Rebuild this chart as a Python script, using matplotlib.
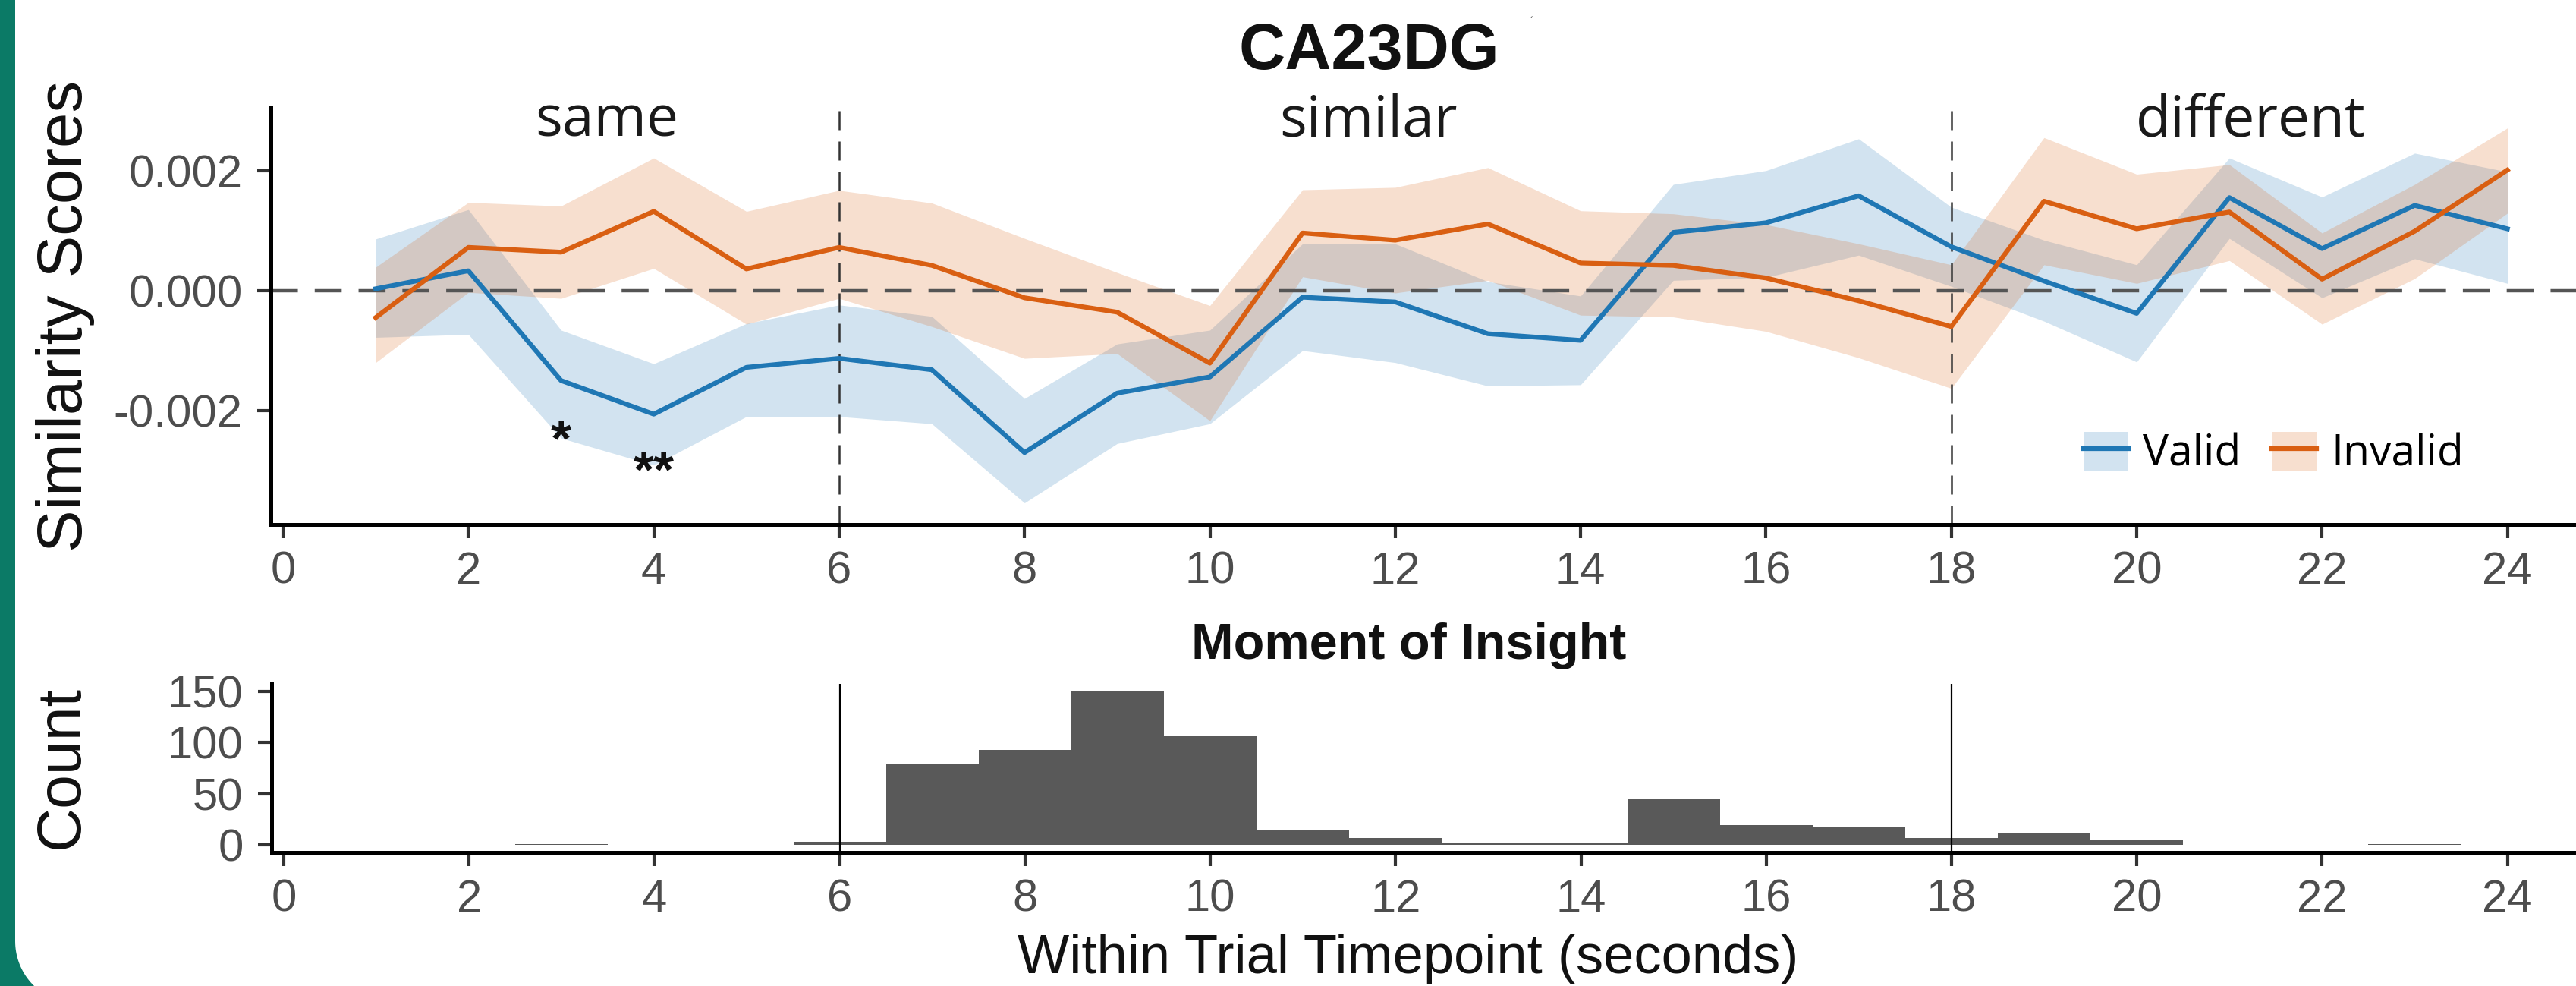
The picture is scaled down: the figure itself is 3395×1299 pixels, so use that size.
import numpy as np
import matplotlib
matplotlib.use('Agg')
import matplotlib.pyplot as plt
from matplotlib.patches import Patch, Polygon
from matplotlib.lines import Line2D
from matplotlib.transforms import blended_transform_factory

# timepoints (seconds)
timepoints = list(range(1, 25))

# similarity scores (x 1e-3), mean and ribbon bounds
valid_mean = [0.03, 0.33, -1.50, -2.06, -1.28, -1.13, -1.32, -2.70, -1.71, -1.44, -0.11, -0.19,
              -0.72, -0.83, 0.97, 1.13, 1.58, 0.73, 0.16, -0.38, 1.55, 0.70, 1.42, 1.03]
valid_upper = [0.86, 1.35, -0.66, -1.22, -0.55, -0.24, -0.43, -1.80, -0.89, -0.66, 0.78, 0.78,
               0.15, -0.09, 1.77, 2.00, 2.53, 1.39, 0.84, 0.43, 2.21, 1.56, 2.29, 1.98]
valid_lower = [-0.78, -0.73, -2.46, -2.91, -2.10, -2.10, -2.22, -3.54, -2.55, -2.22, -1.00, -1.20,
               -1.59, -1.57, 0.17, 0.22, 0.59, 0.07, -0.51, -1.19, 0.87, -0.12, 0.53, 0.12]
invalid_mean = [-0.45, 0.72, 0.64, 1.32, 0.36, 0.72, 0.42, -0.12, -0.36, -1.21, 0.96, 0.84,
                1.11, 0.46, 0.42, 0.21, -0.17, -0.60, 1.49, 1.03, 1.31, 0.19, 0.99, 2.01]
invalid_upper = [0.39, 1.47, 1.41, 2.21, 1.32, 1.67, 1.46, 0.87, 0.30, -0.25, 1.68, 1.72,
                 2.05, 1.33, 1.28, 1.10, 0.78, 0.43, 2.55, 1.94, 2.10, 0.96, 1.77, 2.71]
invalid_lower = [-1.20, -0.03, -0.13, 0.37, -0.56, -0.13, -0.60, -1.13, -1.05, -2.17, 0.23, -0.04,
                 0.17, -0.41, -0.44, -0.68, -1.12, -1.63, 0.43, 0.12, 0.50, -0.56, 0.20, 1.29]

# moment of insight histogram (1 s bins centred on timepoints)
insight_counts = [0, 0, 1, 0, 0, 3, 79, 93, 150, 107, 15, 7,
                  2, 2, 45, 19, 17, 7, 11, 5, 0, 0, 1, 0]

phase_bounds = [6, 18]
phase_names = ['same', 'similar', 'different']
phase_label_x = [3.49, 11.71, 21.23]
star_x = [3, 4]
star_y = [-2.12e-3, -2.64e-3]
star_text = ['*', '**']

xticks = list(range(0, 25, 2))
sim_ticks = [-0.002, 0.0, 0.002]
sim_ticklabels = ['-0.002', '0.000', '0.002']
count_ticks = [0, 50, 100, 150]

BLUE = '#1f77b4'
ORANGE = '#d95f12'
TEAL = '#0b7a66'
TICKGREY = '#4d4d4d'

W, H = 3395, 1299
def fx(px):
    return px / W
def fy(py):
    return 1 - py / H

plt.rcParams['font.family'] = ['Liberation Sans', 'DejaVu Sans']
HUMAN = ['Open Sans', 'DejaVu Sans']

fig = plt.figure(figsize=(W / 100, H / 100), dpi=100)

# green frame edge on the left
arc_a = np.linspace(0, np.arcsin(59 / 82), 20)
frame = [(0, 0), (20, 0), (20, 1240)]
frame += [(102 - 82 * np.cos(a), 1240 + 82 * np.sin(a)) for a in arc_a]
frame += [(0, H)]
fig.add_artist(Polygon([(fx(x), fy(y)) for x, y in frame], closed=True,
                       facecolor=TEAL, edgecolor='none', transform=fig.transFigure))

ax1 = fig.add_axes([fx(357), fy(691), 1 - fx(357), (691 - 141) / H])
ax2 = fig.add_axes([fx(358), fy(1123), 1 - fx(358), (1123 - 901) / H])

t = np.array(timepoints)
vm = np.array(valid_mean) * 1e-3
vu = np.array(valid_upper) * 1e-3
vl = np.array(valid_lower) * 1e-3
im = np.array(invalid_mean) * 1e-3
iu = np.array(invalid_upper) * 1e-3
il = np.array(invalid_lower) * 1e-3

ax1.fill_between(t, vl, vu, color=BLUE, alpha=0.2, lw=0)
ax1.fill_between(t, il, iu, color=ORANGE, alpha=0.2, lw=0)
ax1.axhline(0, color='#555555', lw=3.2, ls=(0, (8, 5)), zorder=1)
for b in phase_bounds:
    ax1.axvline(b, color='#333333', lw=1.8, ls=(0, (10, 6)), zorder=1)
ax1.plot(t, vm, color=BLUE, lw=4.5, zorder=3)
ax1.plot(t, im, color=ORANGE, lw=4.5, zorder=3)

for sx, sy, st in zip(star_x, star_y, star_text):
    ax1.text(sx, sy, st, ha='center', va='top', fontsize=50, fontweight='bold', color='#111111')

lab_tr = blended_transform_factory(ax1.transData, fig.transFigure)
for lx, name in zip(phase_label_x, phase_names):
    ax1.text(lx, fy(179), name, transform=lab_tr, ha='center', va='baseline',
             fontsize=54, family=HUMAN, color='#1a1a1a')

ax1.set_xlim(-0.131, 24.74)
ax1.set_ylim(-0.0039, 0.00306)
ax1.set_xticks(xticks)
ax1.set_yticks(sim_ticks)
ax1.set_yticklabels(sim_ticklabels)

# histogram
ax2.bar(t, insight_counts, width=1.0, color='#595959', lw=0)
for b in phase_bounds:
    ax2.axvline(b, color='black', lw=1.6, zorder=3)
ax2.set_xlim(-0.131, 24.74)
ax2.set_ylim(-7.4, 157.5)
ax2.set_xticks(xticks)
ax2.set_yticks(count_ticks)

for ax in (ax1, ax2):
    for s in ('top', 'right'):
        ax.spines[s].set_visible(False)
    for s in ('left', 'bottom'):
        ax.spines[s].set_linewidth(3.6)
        ax.spines[s].set_color('black')
    ax.tick_params(axis='both', length=13, width=3, color='#333333',
                   labelsize=43, labelcolor=TICKGREY)
    ax.tick_params(axis='x', pad=12)
    ax.tick_params(axis='y', pad=14)
    ax.set_facecolor('none')

fig.text(fx(1804), fy(91), 'CA23DG', ha='center', va='baseline',
         fontsize=61, fontweight='bold', color='#111111')
fig.text(fx(2018), fy(30), 'ˊ', ha='center', va='center', fontsize=12, color='#555555')
fig.text(fx(1857), fy(868), 'Moment of Insight', ha='center', va='baseline',
         fontsize=48, fontweight='bold', color='#111111')
fig.text(fx(1856), fy(1282), 'Within Trial Timepoint (seconds)', ha='center', va='baseline',
         fontsize=52, color='#111111')
fig.text(fx(86), fy(416), 'Similarity Scores', ha='center', va='center', rotation=90,
         fontsize=60, color='#111111')
fig.text(fx(82), fy(1010), 'Count', ha='center', va='center', rotation=90,
         fontsize=58, color='#111111')

handles = [(Patch(facecolor=BLUE, alpha=0.2, lw=0), Line2D([], [], color=BLUE, lw=4.5)),
           (Patch(facecolor=ORANGE, alpha=0.2, lw=0), Line2D([], [], color=ORANGE, lw=4.5))]
fig.legend(handles, ['Valid', 'Invalid'], loc='upper left',
           bbox_to_anchor=(fx(2746), fy(569)), ncol=2, frameon=False,
           borderaxespad=0, borderpad=0, handlelength=1.03, handleheight=1.0,
           handletextpad=0.34, columnspacing=0.72,
           prop={'family': HUMAN, 'size': 41})

fig.savefig('out.png', dpi=100)
